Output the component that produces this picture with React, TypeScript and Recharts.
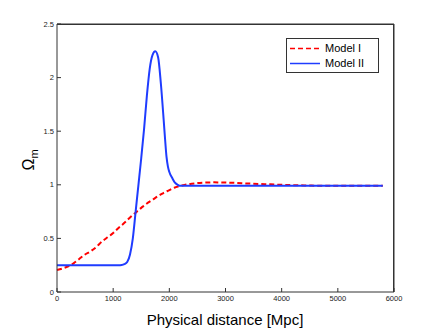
import { LineChart, Line, XAxis, YAxis } from "recharts";

const distance = [
  0, 100, 200, 300, 400, 500, 600, 700, 800, 900, 1000, 1100, 1150, 1200, 1250, 1300, 1350, 1400, 1450, 1500,
  1550, 1600, 1650, 1700, 1750, 1800, 1850, 1900, 1925, 1950, 1975, 2000, 2050, 2100, 2150, 2200, 2300, 2400, 2500, 2600,
  2700, 2800, 2900, 3000, 3200, 3400, 3600, 3800, 4000, 4200, 4400, 4600, 4800, 5000, 5200, 5400, 5600, 5800,
];

const modelI = [
  0.205, 0.22, 0.24, 0.27, 0.31, 0.35, 0.38, 0.42, 0.47, 0.51, 0.55, 0.6, 0.622, 0.645, 0.67, 0.695, 0.718, 0.74, 0.763, 0.785,
  0.805, 0.825, 0.843, 0.86, 0.878, 0.895, 0.91, 0.925, 0.931, 0.938, 0.944, 0.95, 0.963, 0.975, 0.983, 0.99, 1.003, 1.01, 1.016, 1.02,
  1.022, 1.023, 1.022, 1.021, 1.017, 1.012, 1.008, 1.004, 1.0, 0.997, 0.994, 0.992, 0.991, 0.99, 0.99, 0.99, 0.99, 0.99,
];

const modelII = [
  0.25, 0.25, 0.25, 0.25, 0.25, 0.25, 0.25, 0.25, 0.25, 0.25, 0.25, 0.25, 0.252, 0.26, 0.28, 0.35, 0.5, 0.75, 1.0, 1.25,
  1.52, 1.83, 2.08, 2.21, 2.245, 2.19, 1.94, 1.6, 1.42, 1.26, 1.17, 1.12, 1.065, 1.02, 1.0, 0.99, 0.99, 0.99, 0.99, 0.99,
  0.99, 0.99, 0.99, 0.99, 0.99, 0.99, 0.99, 0.99, 0.99, 0.99, 0.99, 0.99, 0.99, 0.99, 0.99, 0.99, 0.99, 0.99,
];

const xTicks = [0, 1000, 2000, 3000, 4000, 5000, 6000];
const yTicks = [0, 0.5, 1, 1.5, 2, 2.5];

const seriesNames = ["Model I", "Model II"];

const rows = distance.map((d, i) => ({ d, m1: modelI[i], m2: modelII[i] }));

const FONT = "'Liberation Sans', Arial, Helvetica, sans-serif";
const AXIS = "#333";
const RED = "#ff0000";
const BLUE = "#1f3cff";

function LegendBox() {
  const items = [
    { name: seriesNames[0], color: RED, dash: "5 3" },
    { name: seriesNames[1], color: BLUE, dash: undefined },
  ];
  return (
    <div
      style={{
        position: "absolute",
        left: 286,
        top: 38,
        width: 93,
        height: 35,
        border: "1px solid #333",
        background: "#fff",
        boxSizing: "border-box",
        fontFamily: FONT,
        fontSize: 11,
        color: "#000",
        paddingTop: 2,
      }}
    >
      {items.map((it) => (
        <div key={it.name} style={{ display: "flex", alignItems: "center", height: 15 }}>
          <svg width={36} height={15} style={{ display: "block" }}>
            <line x1={3} y1={7.5} x2={33} y2={7.5} stroke={it.color} strokeWidth={1.5} strokeDasharray={it.dash} />
          </svg>
          <span style={{ marginLeft: 2, lineHeight: "15px" }}>{it.name}</span>
        </div>
      ))}
    </div>
  );
}

export default function App() {
  return (
    <div style={{ position: "relative", width: 436, height: 329, background: "#fff" }}>
      <style>{`body{margin:0}`}</style>
      <LineChart width={436} height={329} data={rows} margin={{ top: 4, right: 22, bottom: 0, left: 0 }}>
        <XAxis
          dataKey="d"
          type="number"
          domain={[0, 6000]}
          ticks={xTicks}
          height={37}
          stroke={AXIS}
          tickSize={-4}
          tickMargin={8}
          tick={{ fontSize: 7.5, fill: "#222", fontFamily: FONT }}
          label={{
            content: () => (
              <text x={225} y={325} textAnchor="middle" fontSize={15} fontFamily={FONT} fill="#000">
                Physical distance [Mpc]
              </text>
            ),
          }}
        />
        <XAxis
          xAxisId="top"
          orientation="top"
          dataKey="d"
          type="number"
          domain={[0, 6000]}
          ticks={xTicks}
          height={20}
          stroke={AXIS}
          tick={false}
        />
        <YAxis
          type="number"
          domain={[0, 2.5]}
          ticks={yTicks}
          width={57}
          stroke={AXIS}
          tickSize={-4}
          tickMargin={7}
          tick={{ fontSize: 7.5, fill: "#222", fontFamily: FONT }}
          label={{
            content: () => (
              <text transform="translate(34,160) rotate(-90)" textAnchor="middle" fontFamily={FONT} fill="#000">
                <tspan fontSize={16}>Ω</tspan>
                <tspan fontSize={11} dy={4}>m</tspan>
              </text>
            ),
          }}
        />
        <YAxis
          yAxisId="right"
          orientation="right"
          type="number"
          domain={[0, 2.5]}
          ticks={yTicks}
          width={20}
          stroke={AXIS}
          tick={false}
        />
        <Line
          type="monotone"
          dataKey="m1"
          xAxisId="top"
          yAxisId="right"
          name={seriesNames[0]}
          stroke={RED}
          strokeWidth={2}
          strokeDasharray="5 3"
          dot={false}
          isAnimationActive={false}
        />
        <Line
          type="monotone"
          dataKey="m2"
          name={seriesNames[1]}
          stroke={BLUE}
          strokeWidth={2}
          dot={false}
          isAnimationActive={false}
        />
      </LineChart>
      <div
        style={{
          position: "absolute",
          left: 57,
          top: 24,
          width: 337,
          height: 268,
          borderTop: "1px solid #333",
          borderRight: "1px solid #333",
          boxSizing: "border-box",
          pointerEvents: "none",
        }}
      />
      <LegendBox />
    </div>
  );
}
